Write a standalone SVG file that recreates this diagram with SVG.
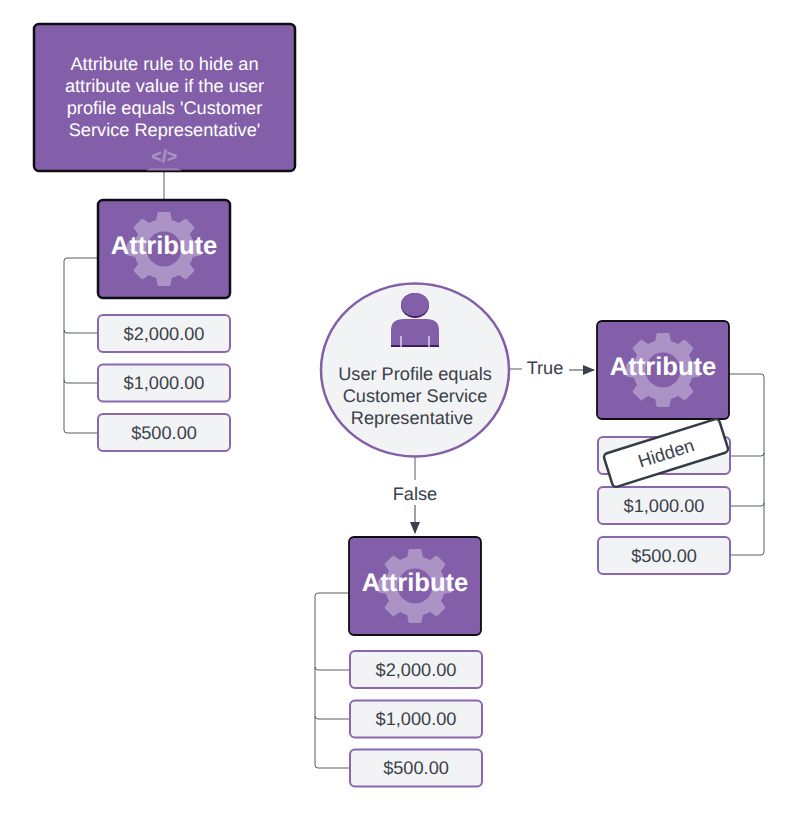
<svg xmlns="http://www.w3.org/2000/svg" width="795" height="817" viewBox="0 0 795 817">
<style>
text{font-family:"Liberation Sans",Arial,sans-serif;text-anchor:middle;text-rendering:geometricPrecision}
.attr{fill:#825fa8;stroke:#0d0d12;stroke-width:2.500}
.attr.thin{stroke-width:1.800}
.val{fill:#f2f3f5;stroke:#8a66ae;stroke-width:2}
.valt{font-size:18.200px;fill:#3a414a}
.attrt{font-size:25.600px;font-weight:bold;fill:#fff}
.rule{font-size:18.200px;fill:#fff}
.lbl{font-size:18.200px;fill:#3a414a}
.conn{fill:none;stroke:#3a414a;stroke-width:1;opacity:.85}
</style>
<defs>
<path id="tooth" d="M-8 -28L-6.500 -36Q-6.500 -37 -5 -37H5Q6.500 -37 6.500 -36L8 -28Z" fill="#ab93c5"/>
<g id="gear">
<circle r="30" fill="#ab93c5"/>
<use href="#tooth"/>
<use href="#tooth" transform="rotate(45)"/>
<use href="#tooth" transform="rotate(90)"/>
<use href="#tooth" transform="rotate(135)"/>
<use href="#tooth" transform="rotate(180)"/>
<use href="#tooth" transform="rotate(225)"/>
<use href="#tooth" transform="rotate(270)"/>
<use href="#tooth" transform="rotate(315)"/>
<circle r="17.500" fill="#825fa8"/>
</g>
<marker id="arrow" markerWidth="12" markerHeight="12" refX="11" refY="6" orient="auto" markerUnits="userSpaceOnUse">
<path d="M0 1L12 6L0 11Z" fill="#3a414a"/>
</marker>
</defs>
<rect width="795" height="817" fill="#fff"/>
<g id="connectors">
<path class="conn" d="M164 171V200"/>
<path class="conn" d="M98 258H67Q64 258 64 261V330Q64 333 67 333H98"/>
<path class="conn" d="M64 330V380Q64 383 67 383H98"/>
<path class="conn" d="M64 380V430Q64 433 67 433H98"/>
<path class="conn" d="M349 593H318Q315 593 315 596V667Q315 670 318 670H350"/>
<path class="conn" d="M315 667V716Q315 719 318 719H350"/>
<path class="conn" d="M315 716V765Q315 768 318 768H350"/>
<path class="conn" d="M729 374H761Q764 374 764 377V453Q764 456 761 456H730"/>
<path class="conn" d="M764 453V503Q764 506 761 506H730"/>
<path class="conn" d="M764 503V552Q764 555 761 555H730"/>
<path class="conn" d="M510 369H522"/>
<path class="conn" d="M569 370H594" marker-end="url(#arrow)" style="opacity:1"/>
<path class="conn" d="M415 457V480"/>
<path class="conn" d="M415 505V533" marker-end="url(#arrow)" style="opacity:1"/>
</g>
<g id="rule">
<rect x="34" y="24" width="261" height="147" rx="5" class="attr"/>
<path d="M146 170.500Q149 168 152 168H176Q179 168 182 170.500Z" fill="#9378b5"/>
<text class="rule" x="164.500" y="70">Attribute rule to hide an</text>
<text class="rule" x="164.500" y="92">attribute value if the user</text>
<text class="rule" x="164.500" y="114">profile equals 'Customer</text>
<text class="rule" x="164.500" y="136">Service Representative'</text>
<text x="164.500" y="161.500" font-size="17" font-weight="bold" fill="#ab93c5" stroke="#ab93c5" stroke-width=".5" letter-spacing=".5">&lt;/&gt;</text>
</g>
<g id="attr1">
<rect x="98" y="200" width="132" height="98" rx="5" class="attr"/>
<use href="#gear" x="164" y="249"/>
<text class="attrt" x="164" y="254">Attribute</text>
</g>
<g id="val1a"><rect x="98" y="315" width="132" height="37" rx="5" class="val"/><text class="valt" x="164" y="339.500">$2,000.00</text></g>
<g id="val1b"><rect x="98" y="364.500" width="132" height="37" rx="5" class="val"/><text class="valt" x="164" y="389">$1,000.00</text></g>
<g id="val1c"><rect x="98" y="414" width="132" height="37" rx="5" class="val"/><text class="valt" x="164" y="439">$500.00</text></g>
<g id="decision">
<ellipse cx="415" cy="370" rx="94" ry="86.500" fill="#f2f3f5" stroke="#825fa8" stroke-width="2.500"/>
<ellipse cx="415" cy="305.500" rx="14" ry="12.500" fill="#3b1f66"/>
<ellipse cx="415" cy="304.500" rx="14" ry="11.500" fill="#825fa8"/>
<path d="M391 347V330Q391 319 404 319H426Q439 319 439 330V347Z" fill="#825fa8"/>
<rect x="391" y="345" width="48" height="2" fill="#3b1f66"/>
<path d="M401 336V347M429 336V347" stroke="#f2f3f5" stroke-width="1.200"/>
<text class="lbl" x="415" y="380">User Profile equals</text>
<text class="lbl" x="415" y="402">Customer Service</text>
<text class="lbl" x="412" y="424">Representative</text>
</g>
<text class="lbl" x="545" y="373.500">True</text>
<text class="lbl" x="415" y="499.500">False</text>
<g id="attr2">
<rect x="597" y="321" width="132" height="98" rx="5" class="attr thin"/>
<use href="#gear" x="663" y="370"/>
<text class="attrt" x="663" y="375">Attribute</text>
</g>
<g id="val2a"><rect x="598" y="437" width="132" height="37" rx="5" class="val"/></g>
<g id="val2b"><rect x="598" y="487" width="132" height="37" rx="5" class="val"/><text class="valt" x="664" y="511.500">$1,000.00</text></g>
<g id="val2c"><rect x="598" y="537" width="132" height="37" rx="5" class="val"/><text class="valt" x="664" y="561.500">$500.00</text></g>
<g id="hidden" transform="rotate(-17.500 666 453)">
<rect x="605.500" y="435.500" width="121" height="35" rx="4" fill="#fff" stroke="#333b44" stroke-width="2.500"/>
<text class="lbl" x="666" y="459.500">Hidden</text>
</g>
<g id="attr3">
<rect x="349" y="537" width="132" height="98" rx="5" class="attr thin"/>
<use href="#gear" x="415" y="586"/>
<text class="attrt" x="415" y="591">Attribute</text>
</g>
<g id="val3a"><rect x="350" y="651" width="132" height="37" rx="5" class="val"/><text class="valt" x="416" y="676">$2,000.00</text></g>
<g id="val3b"><rect x="350" y="700.500" width="132" height="37" rx="5" class="val"/><text class="valt" x="416" y="725">$1,000.00</text></g>
<g id="val3c"><rect x="350" y="749.500" width="132" height="37" rx="5" class="val"/><text class="valt" x="416" y="774">$500.00</text></g>
</svg>
